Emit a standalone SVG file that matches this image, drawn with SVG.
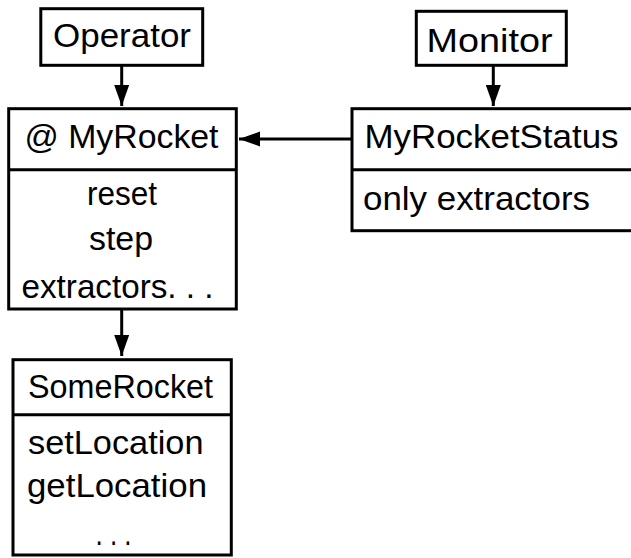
<svg xmlns="http://www.w3.org/2000/svg" width="631" height="558" viewBox="0 0 631 558">
<style>
.box{fill:#fff;stroke:#000;stroke-width:3}
.div{stroke:#000;stroke-width:3}
.t{font-family:"Liberation Sans",Arial,sans-serif;font-size:33px;fill:#000}
.edge{stroke:#000;stroke-width:3;fill:none;marker-end:url(#ah)}
</style>
<defs>
<marker id="ah" markerUnits="userSpaceOnUse" markerWidth="22" markerHeight="16" refX="21" refY="7.5" orient="auto">
<path d="M0,0 L21,7.5 L0,15 z" fill="#000"/>
</marker>
</defs>
<rect width="631" height="558" fill="#fff"/>
<g id="connectors">
<line class="edge" x1="121.7" y1="65.3" x2="121.7" y2="106"/>
<line class="edge" x1="493.3" y1="65.3" x2="493.3" y2="106"/>
<line class="edge" x1="352" y1="139" x2="239" y2="139"/>
<line class="edge" x1="121.7" y1="309" x2="121.7" y2="356"/>
</g>
<g id="operator">
<rect class="box" x="40.8" y="8.7" width="161.9" height="56.6"/>
<text class="t" x="53" y="46.7" textLength="138" lengthAdjust="spacingAndGlyphs">Operator</text>
</g>
<g id="monitor">
<rect class="box" x="416.3" y="11.3" width="150" height="54"/>
<text class="t" x="426.5" y="51.7" textLength="126" lengthAdjust="spacingAndGlyphs">Monitor</text>
</g>
<g id="myrocket">
<rect class="box" x="8.7" y="108.7" width="227.6" height="200.3"/>
<line class="div" x1="8.7" y1="169.7" x2="236.3" y2="169.7"/>
<text class="t" x="24.5" y="148" textLength="194" lengthAdjust="spacingAndGlyphs">@ MyRocket</text>
<text class="t" x="87" y="205" textLength="70" lengthAdjust="spacingAndGlyphs">reset</text>
<text class="t" x="89" y="250" textLength="64" lengthAdjust="spacingAndGlyphs">step</text>
<text class="t" x="21.5" y="298" textLength="192" lengthAdjust="spacingAndGlyphs">extractors. . .</text>
</g>
<g id="myrocketstatus">
<rect class="box" x="352" y="108.7" width="290" height="122"/>
<line class="div" x1="352" y1="169.7" x2="642" y2="169.7"/>
<text class="t" x="364.5" y="148" textLength="254" lengthAdjust="spacingAndGlyphs">MyRocketStatus</text>
<text class="t" x="363" y="210" textLength="227" lengthAdjust="spacingAndGlyphs">only extractors</text>
</g>
<g id="somerocket">
<rect class="box" x="13" y="359.7" width="218.3" height="195.3"/>
<line class="div" x1="13" y1="414.7" x2="231.3" y2="414.7"/>
<text class="t" x="28" y="398.3" textLength="185" lengthAdjust="spacingAndGlyphs">SomeRocket</text>
<text class="t" x="28" y="454" textLength="175.5" lengthAdjust="spacingAndGlyphs">setLocation</text>
<text class="t" x="27" y="496.7" textLength="180" lengthAdjust="spacingAndGlyphs">getLocation</text>
<text class="t" x="95.5" y="545" textLength="36" lengthAdjust="spacingAndGlyphs">. . .</text>
</g>
</svg>
